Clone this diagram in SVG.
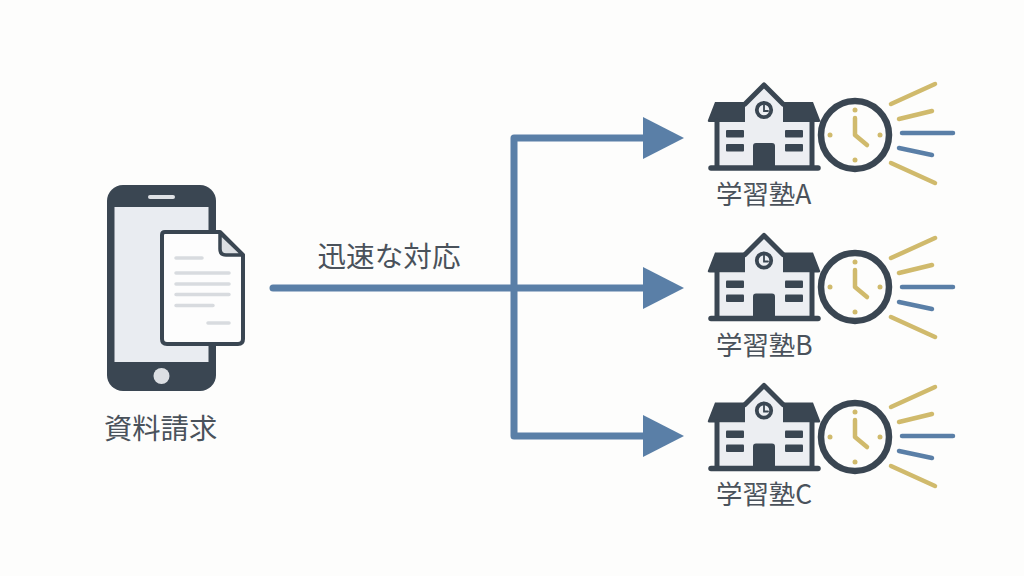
<svg xmlns="http://www.w3.org/2000/svg" width="1024" height="576" viewBox="0 0 1024 576">
<style>
text{font-family:"Noto Sans CJK JP","Noto Sans",sans-serif;fill:#4a525b}
.lbl{font-size:26.4px}
.big{font-size:28.6px}
.big2{font-size:28.3px}
.conn{fill:none;stroke:#5a7fa7;stroke-width:7;stroke-linejoin:round;stroke-linecap:round}
.head{fill:#5a7fa7}
.dark{fill:#3a4652}
.ln{stroke:#3a4652;fill:none;stroke-linecap:round}
.gold{stroke:#d0ba6c;stroke-width:4.5;stroke-linecap:round;fill:none}
.blue{stroke:#5a7fa7;stroke-width:4.5;stroke-linecap:round;fill:none}
.docl{stroke:#d8dbdf;stroke-width:3.5;stroke-linecap:round}
</style>
<defs>
<g id="school">
<path class="dark" d="M708 120 L715 102 H748 V122 H710 Q707 122 708 120Z"/>
<path class="dark" d="M820 120 L813 102 H780 V122 H818 Q821 122 820 120Z"/>
<path d="M745 122 V102 L764 85 L783 102 V122 H811 V166 H718 V122Z" fill="#eceef2"/>
<path class="ln" stroke-width="5" stroke-linejoin="round" d="M745 104 L764 85 L783 104"/>
<path class="ln" stroke-width="5" d="M717 121 V167 M812 121 V167"/>
<path class="ln" stroke-width="5.500" d="M711 168 H818"/>
<path class="dark" d="M753 146 Q753 143 756 143 H772 Q775 143 775 146 V167 H753Z"/>
<rect class="dark" x="726" y="130" width="18" height="7.500" rx="1"/>
<rect class="dark" x="726" y="144" width="18" height="7.500" rx="1"/>
<rect class="dark" x="785" y="130" width="18" height="7.500" rx="1"/>
<rect class="dark" x="785" y="144" width="18" height="7.500" rx="1"/>
<circle cx="764" cy="110" r="7.200" fill="#eceef2" stroke="#3a4652" stroke-width="3.800"/>
<path class="ln" stroke-width="1.800" d="M764 105 V111 H768"/>
</g>
<g id="clock">
<circle cx="855" cy="135" r="34" fill="#fdfdfc" stroke="#3a4652" stroke-width="6.500"/>
<g fill="#d0ba6c"><circle cx="855" cy="110" r="2.500"/><circle cx="855" cy="160" r="2.500"/><circle cx="830" cy="135" r="2.500"/><circle cx="880" cy="135" r="2.500"/></g>
<path class="gold" stroke-linejoin="round" d="M855 118 V135 L867 145"/>
</g>
<g id="rays">
<path class="gold" d="M891 104 L935 84 M899 119 L932 111 M891 163 L935 183"/>
<path class="blue" d="M902 133 H953 M899 148 L932 155"/>
</g>
</defs>
<rect width="1024" height="576" fill="#fdfdfc"/>
<g id="connectors">
<path class="conn" d="M273 288 H650"/>
<path class="conn" d="M650 138 H514 V436 H650"/>
<path class="head" d="M643 117 L684 138 L643 159Z"/>
<path class="head" d="M643 267 L684 288 L643 309Z"/>
<path class="head" d="M643 415 L684 436 L643 457Z"/>
</g>
<g id="phone">
<rect class="dark" x="107" y="185" width="109" height="206" rx="16"/>
<rect x="114.500" y="207" width="94" height="155" fill="#e9ecf1"/>
<rect x="148" y="195" width="27" height="4" rx="2" fill="#dfe2e6"/>
<circle cx="161.500" cy="376" r="8" fill="#dcdfe3"/>
<path d="M165 232 H220 L243 255 V339 Q243 344 238 344 H167 Q162 344 162 339 V235 Q162 232 165 232Z" fill="#fdfdfd" stroke="#3a4652" stroke-width="4" stroke-linejoin="round"/>
<path d="M220 233 L243 255 H226 Q220 255 220 249Z" fill="#dcdfe3" stroke="#3a4652" stroke-width="3.500" stroke-linejoin="round"/>
<path class="docl" d="M176 258 H202 M176 273 H229 M176 284 H229 M176 294.500 H229 M176 305.500 H213 M208 323 H229"/>
<text class="big2" x="104" y="439">資料請求</text>
</g>
<text class="big" x="317.500" y="266.500">迅速な対応</text>
<g id="node-a">
<use href="#school"/><use href="#clock"/><use href="#rays"/>
<text class="lbl" x="716" y="204">学習塾A</text>
</g>
<g id="node-b">
<use href="#school" y="150.500"/><use href="#clock" y="152"/><use href="#rays" y="154"/>
<text class="lbl" x="716" y="354.500">学習塾B</text>
</g>
<g id="node-c">
<use href="#school" y="300.500"/><use href="#clock" y="302"/><use href="#rays" y="303"/>
<text class="lbl" x="716" y="503.500">学習塾C</text>
</g>
</svg>
